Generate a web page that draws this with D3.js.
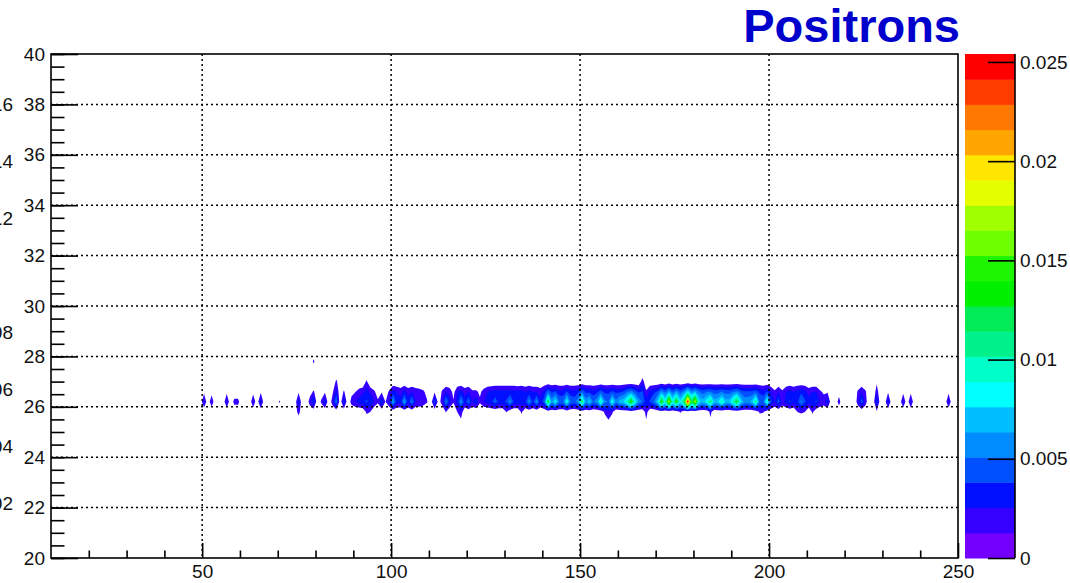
<!DOCTYPE html>
<html>
<head>
<meta charset="utf-8">
<script src="https://cdn.jsdelivr.net/npm/d3@7"></script>
<style>
  body { margin: 0; background: #fff; overflow: hidden; }
  text { font-family: "Liberation Sans", Arial, sans-serif; }
</style>
</head>
<body>
<script>
// 2D histogram, contour (colz) drawing - values in units of 1e-3

// x bin centres of the non empty columns (bin width 1)
var binX = [50.5, 52.5, 56.5, 58.5, 59.5, 63.5, 65.5, 70.5, 75.5, 78.5, 79.5, 81.5, 82.5, 84.5, 85.5, 87.5,
  89.5, 90.5, 91.5, 92.5, 93.5, 94.5, 95.5, 96.5, 97.5, 98.5,
  99.5, 100.5, 101.5, 102.5, 103.5, 104.5, 105.5, 106.5, 107.5, 108.5,
  109.5, 110.5, 111.5, 112.5, 113.5, 114.5, 115.5, 116.5, 117.5, 118.5,
  119.5, 120.5, 121.5, 122.5, 123.5, 124.5, 125.5, 126.5, 127.5, 128.5,
  129.5, 130.5, 131.5, 132.5, 133.5, 134.5, 135.5, 136.5, 137.5, 138.5,
  139.5, 140.5, 141.5, 142.5, 143.5, 144.5, 145.5, 146.5, 147.5, 148.5,
  149.5, 150.5, 151.5, 152.5, 153.5, 154.5, 155.5, 156.5, 157.5, 158.5,
  159.5, 160.5, 161.5, 162.5, 163.5, 164.5, 165.5, 166.5, 167.5, 168.5,
  169.5, 170.5, 171.5, 172.5, 173.5, 174.5, 175.5, 176.5, 177.5, 178.5,
  179.5, 180.5, 181.5, 182.5, 183.5, 184.5, 185.5, 186.5, 187.5, 188.5,
  189.5, 190.5, 191.5, 192.5, 193.5, 194.5, 195.5, 196.5, 197.5, 198.5,
  199.5, 200.5, 201.5, 202.5, 203.5, 204.5, 205.5, 206.5, 207.5, 208.5,
  209.5, 210.5, 211.5, 212.5, 213.5, 214.5, 215.5,
  218.5, 223.5, 224.5, 225.5, 228.5, 231.5, 235.5, 237.5, 247.5];

// y bin centred at 26.2
var rowMid = [3, 2.5, 3, 1.8, 1.8, 2.8, 3.5, 1.5, 3.5, 2, 4, 1.5, 3.5, 2, 5.5, 4,
  1.8, 2.5, 3, 3.5, 4, 3.5, 2.5, 1.5, 4, 1.2,
  2.5, 6.5, 3, 3, 6.5, 3, 5.5, 2.5, 2.5, 2,
  1.4, 0, 4.5, 0.5, 2, 5.5, 3, 1.4, 3, 6,
  3, 5, 2.5, 3.5, 1.5, 2.5, 3, 3.5, 4.5, 3.5,
  3.5, 4, 6, 3.5, 3.5, 3, 3.5, 6, 3.5, 6,
  3, 4.5, 13, 6, 8.5, 5, 5, 9, 5, 4.5,
  6, 12, 6, 7.5, 5, 6, 10, 5.5, 5, 9,
  5.5, 7, 7.5, 10, 14, 9, 6, 5, 3, 4,
  5, 7.5, 14, 9, 17.5, 9, 14, 8, 12, 25.2,
  12, 17.5, 8, 7, 8.5, 11.5, 7, 7.5, 10, 7,
  7, 10, 13, 8, 6, 6, 7, 11, 5, 5,
  9.5, 4, 2.5, 4.5, 2, 3, 4, 3, 3.5, 5.5,
  4, 3, 3.5, 4, 2.5, 2, 3.5,
  2, 2, 4.5, 2, 4, 3.5, 3, 3, 3];

// y bin centred at 26.6
var rowUp = [0.8, 0.6, 0.8, 0, 0, 0.7, 1, 0, 1, 0.5, 1.5, 0.3, 1, 1, 3, 1.5,
  0.8, 1.2, 1.8, 2.2, 3, 2.2, 1.5, 0.6, 1, 0.5,
  1.5, 3, 2.5, 2, 3, 2, 2.5, 2, 1.8, 1.5,
  0.8, 0, 1, 0, 1.5, 2.5, 2, 0.8, 2.5, 3,
  2, 2.5, 1.5, 1.5, 1, 1.8, 2.5, 2.8, 3, 3,
  3, 3, 3, 3, 2.8, 3, 2.5, 3, 2.5, 2.5,
  2, 3, 5, 3.5, 4, 3, 3, 4, 3, 3,
  3.5, 5, 3.5, 3.5, 3, 3.5, 4.5, 3.5, 3.5, 4,
  3.5, 3.5, 4, 5, 5.5, 4.5, 3.5, 4, 1.5, 3,
  3.5, 4, 6, 4.5, 6.5, 4.5, 6, 4.5, 5.5, 8,
  5.5, 6.5, 5, 4.5, 5, 5, 4.5, 4.5, 5, 4.5,
  4.5, 5, 5.5, 4.5, 4, 4, 4, 4.5, 3.5, 3,
  4, 2.5, 1.5, 2.5, 1.5, 2.5, 3, 2.5, 3, 3.5,
  3, 2, 2.5, 2.5, 1.5, 1, 1,
  0.5, 1.5, 2.5, 1.5, 2, 1, 0.8, 0.8, 0.8];

// other filled bins: [x, y, value]
var extraCells = [
  [75.5, 25.8, 2.0], [79.5, 27.8, 1.6], [85.5, 27.0, 1.6],
  [93.5, 27.0, 1.5], [93.5, 25.8, 1.6], [94.5, 25.8, 1.3],
  [114.5, 25.8, 1.4], [117.5, 25.8, 1.3], [118.5, 25.8, 2.2], [118.5, 25.4, 0.8],
  [130.5, 25.8, 1.4], [134.5, 25.8, 1.6],
  [156.5, 25.8, 1.6], [157.5, 25.8, 2.2], [157.5, 25.4, 1.0], [158.5, 25.8, 1.6],
  [166.5, 27.0, 2.0], [167.5, 25.8, 2.0], [167.5, 25.4, 1.0],
  [176.5, 25.8, 1.5], [184.5, 25.8, 1.8], [184.5, 25.4, 0.8],
  [197.5, 25.8, 1.5], [198.5, 25.8, 1.4],
  [207.5, 25.8, 1.3], [208.5, 25.8, 1.5], [209.5, 25.8, 1.3], [211.5, 25.8, 1.6],
  [228.5, 27.0, 1.0], [228.5, 25.8, 1.0]
];

var zMax = 0.0254;
var nLevels = 20;
var palette = ["#7300ff", "#3500ff", "#0010ff", "#0050ff", "#008cff", "#00bfff", "#00ffff", "#00ffc8", "#00f08c", "#00eb55",
               "#00f000", "#1ef500", "#6eff00", "#a0ff00", "#e6ff00", "#ffe600", "#ffa500", "#ff7800", "#ff3c00", "#ff0000"];

var xTicks = [50, 100, 150, 200, 250];
var xMinor = [20, 30, 40, 60, 70, 80, 90, 110, 120, 130, 140, 160, 170, 180, 190, 210, 220, 230, 240];
var yTicks = [20, 22, 24, 26, 28, 30, 32, 34, 36, 38, 40];
var zTicks = [0, 0.005, 0.01, 0.015, 0.02, 0.025];
// labels of the neighbouring pad, cut by the picture edge
var cutLabels = [0.016, 0.014, 0.012, 0.008, 0.006, 0.004, 0.002];

var totalWidth = 1070;
var totalHeight = 583;
var frame = {"left": 51, "right": 958, "top": 54, "bottom": 558};
var bar = {"left": 965, "right": 1015};

var svg = d3.select("body")
            .append("svg")
            .attr("width", totalWidth)
            .attr("height", totalHeight);

var xScale = d3.scaleLinear()
               .domain([10, 250])
               .range([frame.left, frame.right]);
var yScale = d3.scaleLinear()
               .domain([20, 40])
               .range([frame.bottom, frame.top]);
var zScale = d3.scaleLinear()
               .domain([0, zMax])
               .range([frame.bottom, frame.top]);

// fill the histogram grid (240 x bins, 50 y bins)
var nx = 240, ny = 50;
var grid = new Array(nx * ny).fill(0);
function setCell(x, y, v) {
  var i = Math.round(x - 10.5);
  var j = Math.round((y - 20.2) / 0.4);
  grid[j * nx + i] = v * 0.001;
}
for (let k = 0; k < binX.length; k++) {
  setCell(binX[k], 26.2, rowMid[k]);
  setCell(binX[k], 26.6, rowUp[k]);
}
extraCells.forEach(function(c) { setCell(c[0], c[1], c[2]); });

var step = zMax / nLevels;
var levels = d3.range(1, nLevels).map(function(k) { return k * step; });
var contours = d3.contours().size([nx, ny]).thresholds(levels)(grid);

// grid units -> data units -> pixels
var toPixels = d3.geoTransform({
  point: function(gx, gy) {
    this.stream.point(xScale(10 + gx), yScale(20 + 0.4 * gy));
  }
});
var path = d3.geoPath(toPixels);

svg.append("clipPath")
   .attr("id", "plotClip")
   .append("rect")
   .attr("x", frame.left)
   .attr("y", frame.top)
   .attr("width", frame.right - frame.left)
   .attr("height", frame.bottom - frame.top);

svg.append("g")
   .attr("clip-path", "url(#plotClip)")
   .selectAll("path")
   .data(contours)
   .enter()
   .append("path")
   .attr("d", path)
   .attr("fill-rule", "evenodd")
   .attr("fill", function(d, i) { return palette[i + 1]; });

// dotted grid
svg.append("g")
   .selectAll("line")
   .data(xTicks.slice(0, 4))
   .enter()
   .append("line")
   .attr("x1", function(d) { return xScale(d); })
   .attr("x2", function(d) { return xScale(d); })
   .attr("y1", frame.top)
   .attr("y2", frame.bottom)
   .attr("stroke", "#000")
   .attr("stroke-width", 1.5)
   .attr("stroke-dasharray", "2,3");

svg.append("g")
   .selectAll("line")
   .data(yTicks.slice(1, 10))
   .enter()
   .append("line")
   .attr("x1", frame.left)
   .attr("x2", frame.right)
   .attr("y1", function(d) { return yScale(d); })
   .attr("y2", function(d) { return yScale(d); })
   .attr("stroke", "#000")
   .attr("stroke-width", 1.5)
   .attr("stroke-dasharray", "2,3");

// axes, ticks pointing inside like ROOT
function styleAxis(g) {
  g.attr("font-size", 19)
   .attr("font-family", "'Liberation Sans', Arial, sans-serif");
  g.select(".domain").remove();
  g.selectAll(".tick line").attr("stroke-width", 1.6);
  g.selectAll(".tick text").attr("fill", "#111");
}

svg.append("g")
   .attr("transform", "translate(0," + frame.bottom + ")")
   .call(d3.axisBottom(xScale).tickValues(xMinor).tickSizeInner(-7.5).tickSizeOuter(0).tickFormat(""))
   .call(styleAxis);
svg.append("g")
   .attr("transform", "translate(0," + frame.bottom + ")")
   .call(d3.axisBottom(xScale).tickValues(xTicks).tickSizeInner(-15).tickSizeOuter(0).tickPadding(7))
   .call(styleAxis);

svg.append("g")
   .attr("transform", "translate(" + frame.left + ",0)")
   .call(d3.axisLeft(yScale).tickValues(d3.range(20, 40.01, 0.5)).tickSizeInner(-13.5).tickSizeOuter(0).tickFormat(""))
   .call(styleAxis);
svg.append("g")
   .attr("transform", "translate(" + frame.left + ",0)")
   .call(d3.axisLeft(yScale).tickValues(yTicks).tickSizeInner(-27).tickSizeOuter(0).tickPadding(6))
   .call(styleAxis);

// frame
svg.append("rect")
   .attr("x", frame.left)
   .attr("y", frame.top)
   .attr("width", frame.right - frame.left)
   .attr("height", frame.bottom - frame.top)
   .attr("fill", "none")
   .attr("stroke", "#000")
   .attr("stroke-width", 1.6);

// colour palette
svg.append("g")
   .selectAll("rect")
   .data(palette)
   .enter()
   .append("rect")
   .attr("x", bar.left)
   .attr("width", bar.right - bar.left)
   .attr("y", function(d, i) { return zScale((i + 1) * step); })
   .attr("height", function(d, i) { return zScale(i * step) - zScale((i + 1) * step) + 0.5; })
   .attr("fill", function(d) { return d; });

svg.append("g")
   .attr("transform", "translate(" + bar.right + ",0)")
   .call(d3.axisRight(zScale).tickValues(zTicks).tickSizeInner(-27).tickSizeOuter(0).tickPadding(5)
           .tickFormat(function(d) { return String(d); }))
   .call(styleAxis);

svg.append("line")
   .attr("x1", bar.right)
   .attr("x2", bar.right)
   .attr("y1", frame.top)
   .attr("y2", frame.bottom)
   .attr("stroke", "#000")
   .attr("stroke-width", 1.6);

// title
svg.append("text")
   .attr("x", 960)
   .attr("y", 42)
   .attr("text-anchor", "end")
   .attr("font-size", 47)
   .attr("font-weight", "bold")
   .attr("fill", "#0000cc")
   .text("Positrons");

// labels of the pad on the left
svg.append("g")
   .selectAll("text")
   .data(cutLabels)
   .enter()
   .append("text")
   .attr("x", -34.6)
   .attr("y", function(d) { return 104 + (0.016 - d) / 0.002 * 57; })
   .attr("dy", "0.35em")
   .attr("font-size", 19)
   .attr("fill", "#111")
   .text(function(d) { return String(d); });
</script>
</body>
</html>
